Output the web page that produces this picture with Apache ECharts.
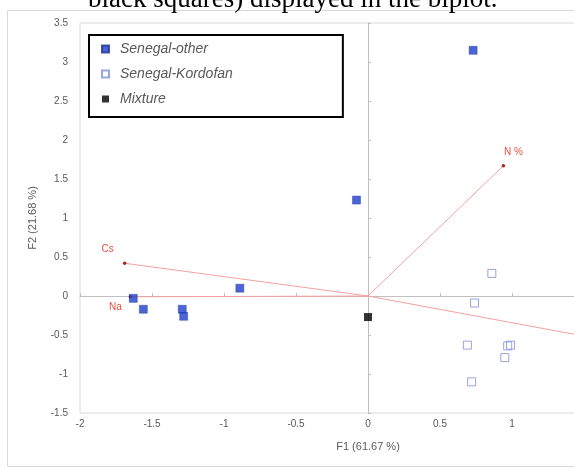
<!DOCTYPE html>
<html>
<head>
<meta charset="utf-8">
<script src="https://cdn.jsdelivr.net/npm/echarts@6/dist/echarts.min.js"></script>
<style>
html,body{margin:0;padding:0;background:#fff;}
#chart{width:574px;height:469px;}
</style>
</head>
<body>
<div id="chart"></div>
<script>
// ---- data ----
var senegalOther = [[0.73,3.15],[-0.08,1.23],[-0.89,0.10],[-1.63,-0.03],[-1.56,-0.17],[-1.29,-0.17],[-1.28,-0.26]];
var senegalKordofan = [[0.86,0.29],[0.74,-0.09],[0.69,-0.63],[0.97,-0.64],[0.99,-0.63],[0.95,-0.79],[0.72,-1.10]];
var mixture = [[0.0,-0.27]];
var vectorNames = ['N %','Cs','Na',''];
var vectorEnds = [[0.94,1.67],[-1.69,0.42],[-1.65,-0.01],[1.75,-0.6]];
var xTicks = {min:-2, max:2, step:0.5};
var yTicks = {min:-1.5, max:3.5, step:0.5};
var xTitle = 'F1 (61.67 %)';
var yTitle = 'F2 (21.68 %)';
var captionText = 'black squares) displayed in the biplot.';

var labelOffsets = [[10,-13],[-17,-14],[-15,10],[10,0]];

var chart = echarts.init(document.getElementById('chart'), null, {renderer:'canvas'});

var vectorSeries = vectorEnds.map(function(e,i){
  return {
    type:'line', name:'v'+i, xAxisIndex:0, yAxisIndex:0,
    data:[
      {value:[0,0], symbol:'none'},
      {value:e, symbol:'circle', symbolSize:3.5,
       label:{show:vectorNames[i]!=='', formatter:vectorNames[i], position:'inside',
              offset:labelOffsets[i], color:'#e8503f', fontSize:10, fontFamily:'Liberation Sans'}}
    ],
    lineStyle:{color:'#f3a0a0', width:1},
    itemStyle:{color:'#a02828'},
    silent:true, animation:false, z:1
  };
});

var axisLabelStyle = {color:'#595959', fontSize:10, fontFamily:'Liberation Sans'};

var option = {
  animation:false,
  grid:{left:80, top:23, width:576, height:390, outerBoundsMode:'none', containLabel:false,
        show:true, borderColor:'#d9d9d9', borderWidth:1, backgroundColor:'transparent'},
  legend:{
    orient:'vertical', left:89, top:35,
    data:['Senegal-other','Senegal-Kordofan','Mixture'],
    borderColor:'#000', borderWidth:2, padding:[6,110,10,12],
    itemWidth:7, itemHeight:7, itemGap:9,
    textStyle:{color:'#595959', fontSize:14, fontStyle:'italic', fontFamily:'Liberation Sans', lineHeight:16, padding:[0,0,0,6]},
    backgroundColor:'#fff'
  },
  xAxis:[
    {type:'value', min:xTicks.min, max:xTicks.max, interval:xTicks.step,
     axisLine:{show:false, onZero:false}, axisTick:{show:false}, splitLine:{show:false},
     axisLabel:Object.assign({margin:6}, axisLabelStyle),
     name:xTitle, nameLocation:'middle', nameGap:28,
     nameTextStyle:{color:'#595959', fontSize:11, fontFamily:'Liberation Sans'}},
    {type:'value', min:xTicks.min, max:xTicks.max, interval:xTicks.step, position:'bottom',
     axisLine:{show:true, onZero:true, onZeroAxisIndex:0, lineStyle:{color:'#bfbfbf'}},
     axisTick:{show:true, inside:true, length:3, lineStyle:{color:'#bfbfbf'}},
     axisLabel:{show:false}, splitLine:{show:false}}
  ],
  yAxis:[
    {type:'value', min:yTicks.min, max:yTicks.max, interval:yTicks.step,
     axisLine:{show:false, onZero:false}, axisTick:{show:false}, splitLine:{show:false},
     axisLabel:Object.assign({margin:12}, axisLabelStyle),
     name:yTitle, nameLocation:'middle', nameGap:42,
     nameTextStyle:{color:'#595959', fontSize:11, fontFamily:'Liberation Sans'}},
    {type:'value', min:yTicks.min, max:yTicks.max, interval:yTicks.step, position:'left',
     axisLine:{show:true, onZero:true, onZeroAxisIndex:0, lineStyle:{color:'#bfbfbf'}},
     axisTick:{show:true, inside:true, length:3, lineStyle:{color:'#bfbfbf'}},
     axisLabel:{show:false}, splitLine:{show:false}}
  ],
  graphic:[
    {type:'rect', shape:{x:7.5, y:10.5, width:620, height:456}, style:{fill:'none', stroke:'#d9d9d9', lineWidth:1}, z:-10, silent:true},
    {type:'text', left:88, top:-14, style:{text:captionText, fill:'#000', font:'27px "Liberation Serif"'}, silent:true}
  ],
  series: vectorSeries.concat([
    {type:'scatter', name:'Senegal-other', data:senegalOther, symbol:'rect', symbolSize:8,
     itemStyle:{color:'#1f3fcc', borderColor:'#1a2f9a', borderWidth:0.5}, z:3},
    {type:'scatter', name:'Senegal-Kordofan', data:senegalKordofan, symbol:'rect', symbolSize:8,
     itemStyle:{color:'rgba(255,255,255,0)', borderColor:'#7f8fd6', borderWidth:1}, z:3},
    {type:'scatter', name:'Mixture', data:mixture, symbol:'rect', symbolSize:8,
     itemStyle:{color:'#000'}, z:3}
  ])
};
chart.setOption(option);
</script>
</body>
</html>
